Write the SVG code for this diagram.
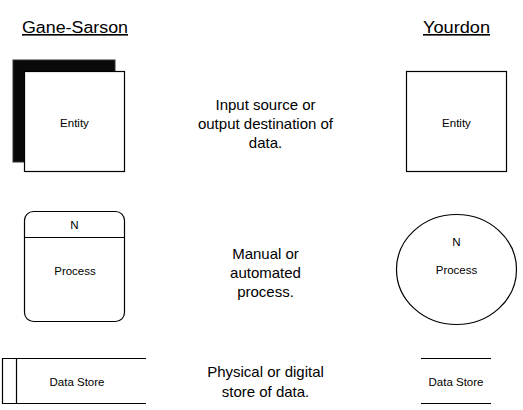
<svg xmlns="http://www.w3.org/2000/svg" width="523" height="410" viewBox="0 0 523 410">
<style>
.s{fill:#fff;stroke:#000;stroke-width:1.2}
.t{font-family:"Liberation Sans",Arial,sans-serif;fill:#000;text-anchor:middle}
.sm{font-size:11.5px}
.md{font-size:15px}
.ti{font-size:16px;text-decoration:underline}
.ln{stroke:#000;stroke-width:1.2;fill:none}
</style>
<rect width="523" height="410" fill="#fff"/>
<g id="titles">
<text class="t ti" x="75" y="33" textLength="106" lengthAdjust="spacingAndGlyphs">Gane-Sarson</text>
<text class="t ti" x="456.5" y="33" textLength="67" lengthAdjust="spacingAndGlyphs">Yourdon</text>
</g>
<g id="gs-entity">
<rect x="13" y="60" width="102" height="102" fill="#0a0a0a" stroke="#333" stroke-width="1"/>
<rect class="s" x="24.5" y="71.5" width="100" height="100"/>
<text class="t sm" x="74.5" y="127">Entity</text>
</g>
<g id="y-entity">
<rect class="s" x="406.5" y="71.5" width="100" height="100"/>
<text class="t sm" x="456.5" y="127">Entity</text>
</g>
<g id="entity-desc">
<text class="t md" x="265.5" y="110">Input source or</text>
<text class="t md" x="265.5" y="129">output destination of</text>
<text class="t md" x="265.5" y="148">data.</text>
</g>
<g id="gs-process">
<rect class="s" x="24.5" y="211.5" width="100" height="110" rx="9" ry="9"/>
<line class="ln" x1="24.5" y1="237.5" x2="124.5" y2="237.5"/>
<text class="t sm" x="74.5" y="229">N</text>
<text class="t sm" x="75" y="275">Process</text>
</g>
<g id="y-process">
<ellipse class="s" cx="456.5" cy="269.5" rx="60" ry="55"/>
<text class="t sm" x="456.5" y="246">N</text>
<text class="t sm" x="456.5" y="274">Process</text>
</g>
<g id="process-desc">
<text class="t md" x="265.5" y="259">Manual or</text>
<text class="t md" x="265.5" y="278">automated</text>
<text class="t md" x="265.5" y="297">process.</text>
</g>
<g id="gs-store">
<polyline class="ln" points="146,358.5 2.5,358.5 2.5,403.5 146,403.5"/>
<line class="ln" x1="16.5" y1="358.5" x2="16.5" y2="403.5"/>
<text class="t sm" x="77" y="386">Data Store</text>
</g>
<g id="y-store">
<line class="ln" x1="421" y1="358.5" x2="491" y2="358.5"/>
<line class="ln" x1="421" y1="403.5" x2="491" y2="403.5"/>
<text class="t sm" x="456" y="386">Data Store</text>
</g>
<g id="store-desc">
<text class="t md" x="265.5" y="377">Physical or digital</text>
<text class="t md" x="265.5" y="397">store of data.</text>
</g>
<g id="connectors"></g>
</svg>
